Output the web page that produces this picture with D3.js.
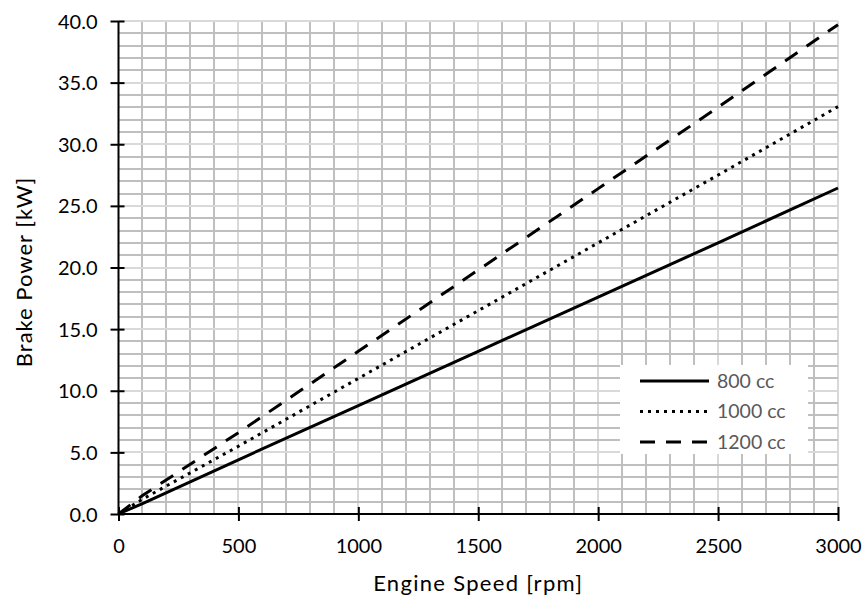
<!DOCTYPE html>
<html>
<head>
<meta charset="utf-8">
<style>
body { margin: 0; background: #fff; }
text { font-family: Lato, "Open Sans", sans-serif; fill: #000; }
.grid line { shape-rendering: crispEdges; }
</style>
</head>
<body>
<div id="chart"></div>
<script src="https://d3js.org/d3.v7.min.js"></script>
<script>

var width = 867, height = 601;

// engine speed samples [rpm]
var speeds = [0, 100, 500, 1000, 1500, 2000, 2500, 3000];
// brake power [kW]
var power800  = [0, 0.85, 4.4, 8.8, 13.2, 17.6, 22.0, 26.45];
var power1000 = [0, 1.2, 5.5, 11.0, 16.5, 22.0, 27.5, 33.05];
var power1200 = [0, 1.5, 6.6, 13.2, 19.8, 26.4, 33.0, 39.7];

var seriesNames = ["800 cc", "1000 cc", "1200 cc"];
var xTicks = [0, 500, 1000, 1500, 2000, 2500, 3000];
var yTicks = [0, 5, 10, 15, 20, 25, 30, 35, 40];

var plotLeft = 118.5, plotRight = 838, plotTop = 21, plotBottom = 514;

var x = d3.scaleLinear().domain([0, 3000]).range([plotLeft, plotRight]);
var y = d3.scaleLinear().domain([0, 40]).range([plotBottom, plotTop]);

var svg = d3.select("#chart").append("svg")
    .attr("width", width)
    .attr("height", height);

// grid: minor every 100 rpm / 1 kW, major lighter
var grid = svg.append("g").attr("class", "grid");
d3.range(100, 3001, 100).forEach(function(v) {
  var major = v % 500 === 0;
  grid.append("line")
      .attr("x1", x(v)).attr("x2", x(v))
      .attr("y1", y(0)).attr("y2", y(40))
      .attr("stroke", major ? "#d9d9d9" : "#bfbfbf")
      .attr("stroke-width", 2);
});
d3.range(1, 41, 1).forEach(function(v) {
  var major = v % 5 === 0;
  grid.append("line")
      .attr("x1", x(0)).attr("x2", x(3000))
      .attr("y1", y(v)).attr("y2", y(v))
      .attr("stroke", major ? "#d9d9d9" : "#bfbfbf")
      .attr("stroke-width", 2);
});

// axes
var xAxis = d3.axisBottom(x).tickValues(xTicks).tickSize(0).tickFormat(d3.format("d"));
var yAxis = d3.axisLeft(y).tickValues(yTicks).tickSize(0).tickFormat(d3.format(".1f"));

var gx = svg.append("g").attr("transform", "translate(0," + plotBottom + ")").call(xAxis);
gx.select(".domain").remove();
gx.selectAll(".tick text")
    .attr("y", 39).attr("dy", 0)
    .style("font-size", "20px").style("font-family", "Lato");
gx.selectAll(".tick").append("line")
    .attr("y1", -7).attr("y2", 7)
    .attr("stroke", "#000").attr("stroke-width", 2);

var gy = svg.append("g").attr("transform", "translate(" + plotLeft + ",0)").call(yAxis);
gy.select(".domain").remove();
gy.selectAll(".tick text")
    .attr("x", -21).attr("dy", "0.35em")
    .style("font-size", "20px").style("font-family", "Lato");
gy.selectAll(".tick").append("line")
    .attr("x1", -8).attr("x2", 6)
    .attr("stroke", "#000").attr("stroke-width", 2);

svg.append("line")
    .attr("x1", x(0)).attr("x2", x(3000))
    .attr("y1", y(0)).attr("y2", y(0))
    .attr("stroke", "#000").attr("stroke-width", 2);
svg.append("line")
    .attr("x1", x(0)).attr("x2", x(0))
    .attr("y1", y(0)).attr("y2", y(40))
    .attr("stroke", "#000").attr("stroke-width", 2);

// series
var styles = [
  { data: power800, dash: null },
  { data: power1000, dash: "3,5" },
  { data: power1200, dash: "15,11" }
];

var line = d3.line()
    .x(function(d, i) { return x(speeds[i]); })
    .y(function(d) { return y(d); });

styles.forEach(function(s) {
  svg.append("path")
      .datum(s.data)
      .attr("d", line)
      .attr("fill", "none")
      .attr("stroke", "#000")
      .attr("stroke-width", 3)
      .attr("stroke-dasharray", s.dash);
});

// legend
var legend = svg.append("g");
legend.append("rect")
    .attr("x", 620).attr("y", 365)
    .attr("width", 188).attr("height", 89)
    .attr("fill", "#fff");
styles.forEach(function(s, i) {
  var ly = 381 + i * 30.5;
  legend.append("line")
      .attr("x1", 640).attr("x2", 709)
      .attr("y1", ly).attr("y2", ly)
      .attr("stroke", "#000").attr("stroke-width", 3)
      .attr("stroke-dasharray", s.dash);
  legend.append("text")
      .attr("x", 717).attr("y", ly)
      .attr("dy", "0.35em")
      .style("font-size", "19.5px")
      .style("fill", "#595959")
      .text(seriesNames[i]);
});

// axis titles
svg.append("text")
    .attr("x", (plotLeft + plotRight) / 2).attr("y", 591)
    .attr("text-anchor", "middle")
    .style("font-size", "22px")
    .style("letter-spacing", "1.3px")
    .text("Engine Speed [rpm]");

svg.append("text")
    .attr("transform", "translate(32," + 272 + ") rotate(-90)")
    .attr("text-anchor", "middle")
    .style("font-size", "22px")
    .style("letter-spacing", "1px")
    .text("Brake Power [kW]");

</script>
</body>
</html>
